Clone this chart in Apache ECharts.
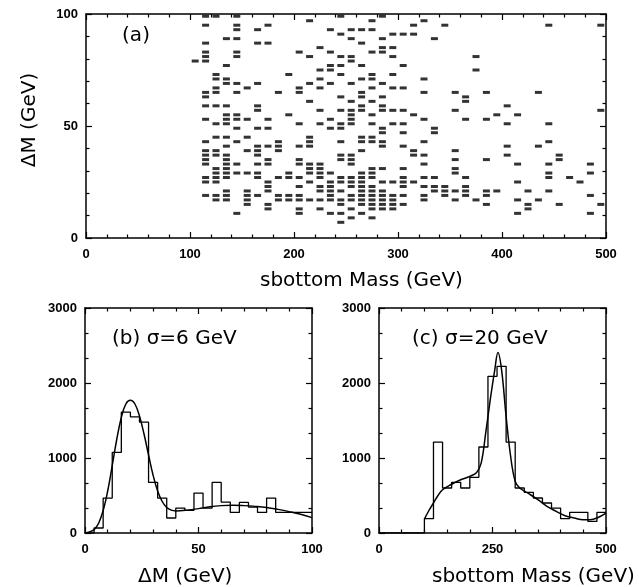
<!DOCTYPE html>
<html>
<head>
<meta charset="utf-8">
<script src="https://cdn.jsdelivr.net/npm/echarts@6/dist/echarts.min.js"></script>
<style>
html,body{margin:0;padding:0;background:#fff;}
#chart{width:639px;height:587px;}
</style>
</head>
<body>
<div id="chart"></div>
<script>
// ---- (a) scatter: ΔM rows and the sbottom masses found on each row ----
const deltaMRows = [99,97,95,93,91,89,87,85,83,81,79,77,75,73,71,69,67,65,63,61,59,57,55,53,51,49,47,45,43,41,39,37,35,33,31,29,27,25,23,21,19,17,15,13,11,9,7];
const massByRow = [
  [115,125,145,245,285],
  [215,275,325],
  [115,145,175,315,345,445,495],
  [145,165,235,255,265,275],
  [245,295,305,315],
  [135,145,255,285,335],
  [115,165,175,265],
  [225,285,295],
  [115,145,205,235,275,285],
  [115,145,215,245,255,295,375],
  [105,115,255],
  [135,235,245,265,305],
  [225,235,375],
  [125,195,245,275,295],
  [125,135,225,265,275,325],
  [135,145,165,215,235,255,285],
  [125,155,205,225,275,295,305],
  [115,125,145,185,205,265,325,355,385,435],
  [115,245,265,285,365],
  [215,255,275,365],
  [115,125,135,165,265,285,405],
  [165,225,245,255,265,285,295,305,355,495],
  [135,145,195,255,275,315,395,415],
  [115,135,145,155,175,235,255,325,365,385],
  [125,135,205,225,245,255,275,295,305,405,445],
  [145,165,175,235,245,285,335],
  [285,305,335],
  [125,135,155,215,265,275],
  [115,145,185,215,245,265,275,285,325,445],
  [135,165,175,185,205,215,285,305,405,435],
  [115,125,155,165,185,265,315,355],
  [115,125,135,165,245,255,315,325,405,455],
  [115,135,175,205,245,255,355,385,455],
  [115,135,145,165,175,205,215,225,255,325,415,445,485],
  [125,135,215,225,275,285,305,355],
  [125,135,145,155,165,195,215,225,235,265,275,355,445,485],
  [115,125,135,165,185,195,205,225,245,255,265,275,305,325,335,365,445,465],
  [115,125,175,215,235,245,255,265,285,295,305,315,415,475],
  [175,205,225,235,255,265,275,305,325,335,345,365],
  [135,155,175,225,235,245,265,275,285,335,345,355,365,385,395,425,445],
  [115,125,135,155,165,185,195,205,235,255,265,275,285,295,305,325,345,365,385,485],
  [125,135,155,185,195,205,215,225,235,245,255,265,275,285,295,325,355,375,415,435],
  [155,175,245,265,275,285,295,305,385,425,455,495],
  [175,205,225,255,275,285,295,425],
  [145,205,235,245,265,415,485],
  [255,275],
  [245]
];

// ---- (b) ΔM histogram (4 GeV bins) and fitted curve ----
const histBEdges = [0,4,8,12,16,20,24,28,32,36,40,44,48,52,56,60,64,68,72,76,80,84,88,92,96,100];
const histBCounts = [0,67,466,1074,1611,1549,1478,675,466,200,333,302,533,333,675,413,275,408,346,275,466,275,275,275,275];
const curveBX = [0,2,4,6,8,10,12,14,16,18,20,22,24,26,28,30,32,34,36,38,40,45,50,55,60,65,70,75,80,85,90,95,100];
const curveBY = [0,15,45,130,300,560,900,1250,1540,1720,1770,1720,1560,1320,1040,770,560,420,340,305,295,305,325,350,365,370,365,355,340,315,285,250,205];

// ---- (c) sbottom mass histogram (20 GeV bins) and fitted curve ----
const histCEdges = [0,20,40,60,80,100,120,140,160,180,200,220,240,260,280,300,320,340,360,380,400,420,440,460,480,500];
const histCCounts = [0,0,0,0,0,191,1213,600,676,600,742,1147,2089,2222,1213,600,542,467,400,333,191,276,276,155,276];
const curveCX = [100,110,120,130,140,160,180,200,215,225,235,245,255,262,270,280,290,300,310,330,350,370,390,410,430,450,465,480,500];
const curveCY = [186,300,400,500,577,650,710,755,808,932,1331,1775,2175,2406,2175,1553,1020,688,600,524,444,355,289,231,200,178,178,200,266];

// ---- tick settings ----
const ticksA = {xMax:500, xInt:100, xMinor:5, yMax:100, yInt:50, yMinor:5};
const ticksB = {xMax:100, xInt:50, xMinor:5, yMax:3000, yInt:1000, yMinor:3};
const ticksC = {xMax:500, xInt:250, xMinor:5, yMax:3000, yInt:1000, yMinor:3};

const scatterData = [];
deltaMRows.forEach((d, i) => massByRow[i].forEach(m => scatterData.push([m, d])));
const stepData = (edges, counts) => edges.map((e, i) => [e, counts[Math.min(i, counts.length - 1)]]);
const zip = (xs, ys) => xs.map((x, i) => [x, ys[i]]);

const labelFont = {color:'#000', fontFamily:'Liberation Sans', fontWeight:'bold', fontSize:13};
const lineBlack = {color:'#000', width:1.5};

function axisPair(kind, g, max, interval, minorSplit) {
  const base = {
    type:'value', gridIndex:g, min:0, max:max, interval:interval,
    axisLine:{show:true, onZero:false, lineStyle:lineBlack},
    axisTick:{show:true, inside:true, length:6, lineStyle:{color:'#000', width:1.2}},
    minorTick:{show:true, splitNumber:minorSplit, length:3.5, lineStyle:{color:'#000', width:1.2}},
    splitLine:{show:false}, minorSplitLine:{show:false}
  };
  const main = Object.assign({}, base, {
    position: kind === 'x' ? 'bottom' : 'left',
    axisLabel: Object.assign({show:true, margin: kind === 'x' ? 10 : 8, showMinLabel:true, showMaxLabel:true,
      formatter: v => String(v)}, labelFont)
  });
  const mirror = Object.assign({}, base, {
    position: kind === 'x' ? 'top' : 'right',
    axisLabel:{show:false}
  });
  return [main, mirror];
}

const grids = [
  {left:86, top:14, width:520, height:224},
  {left:85, top:308, width:227, height:225},
  {left:379, top:308, width:227, height:225}
];
const tickSets = [ticksA, ticksB, ticksC];
const xAxes = [], yAxes = [];
tickSets.forEach((t, g) => {
  xAxes.push(...axisPair('x', g, t.xMax, t.xInt, t.xMinor));
  yAxes.push(...axisPair('y', g, t.yMax, t.yInt, t.yMinor));
});

const titleFont = '20px "DejaVu Sans"';
const option = {
  animation:false,
  backgroundColor:'#fff',
  grid: grids,
  xAxis: xAxes,
  yAxis: yAxes,
  series: [
    {type:'scatter', xAxisIndex:0, yAxisIndex:0, data:scatterData, symbol:'rect', symbolSize:[7,3],
     itemStyle:{color:'#000'}, silent:true},
    {type:'line', xAxisIndex:2, yAxisIndex:2, data:stepData(histBEdges, histBCounts), step:'end',
     symbol:'none', lineStyle:{color:'#000', width:1.3}},
    {type:'line', xAxisIndex:2, yAxisIndex:2, data:zip(curveBX, curveBY), smooth:0.4,
     symbol:'none', lineStyle:{color:'#000', width:1.5}},
    {type:'line', xAxisIndex:4, yAxisIndex:4, data:stepData(histCEdges, histCCounts), step:'end',
     symbol:'none', lineStyle:{color:'#000', width:1.3}},
    {type:'line', xAxisIndex:4, yAxisIndex:4, data:zip(curveCX, curveCY), smooth:0.4,
     symbol:'none', lineStyle:{color:'#000', width:1.5}}
  ],
  graphic: [
    {type:'text', x:136, y:36, style:{text:'(a)', font:titleFont, fill:'#000', align:'center', verticalAlign:'middle'}},
    {type:'text', x:112, y:339, style:{text:'(b) σ=6 GeV', font:titleFont, fill:'#000', align:'left', verticalAlign:'middle'}},
    {type:'text', x:412, y:339, style:{text:'(c) σ=20 GeV', font:titleFont, fill:'#000', align:'left', verticalAlign:'middle'}},
    {type:'text', x:260, y:281, style:{text:'sbottom Mass (GeV)', font:titleFont, fill:'#000', align:'left', verticalAlign:'middle'}},
    {type:'text', x:138, y:577, style:{text:'ΔM (GeV)', font:titleFont, fill:'#000', align:'left', verticalAlign:'middle'}},
    {type:'text', x:432, y:577, style:{text:'sbottom Mass (GeV)', font:titleFont, fill:'#000', align:'left', verticalAlign:'middle'}},
    {type:'text', x:30, y:120, rotation:Math.PI/2, style:{text:'ΔM (GeV)', font:titleFont, fill:'#000', align:'center', verticalAlign:'middle'}}
  ]
};

const chart = echarts.init(document.getElementById('chart'), null, {renderer:'canvas'});
chart.setOption(option);
</script>
</body>
</html>
